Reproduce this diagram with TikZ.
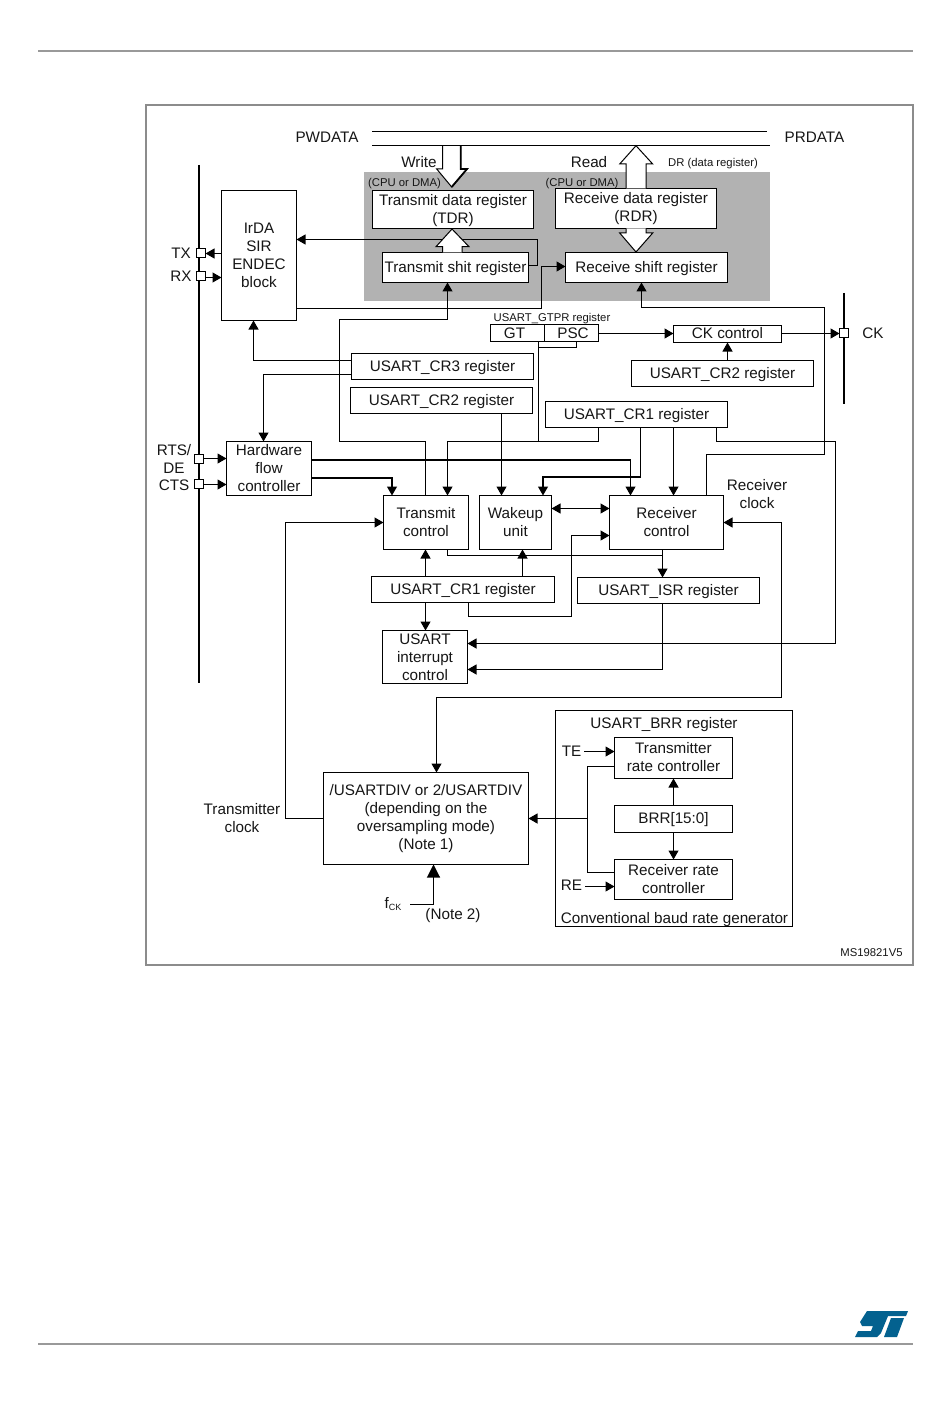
\documentclass[tikz,border=0pt]{standalone}
\usepackage{fontspec}
\setmainfont{Liberation Sans}
\usetikzlibrary{arrows.meta}
\definecolor{regfill}{HTML}{B2B2B2}
\definecolor{framegray}{HTML}{8C8C8C}
\definecolor{rulegray}{HTML}{999999}
\definecolor{stblue}{HTML}{03618F}
\definecolor{inkc}{HTML}{161616}
\tikzset{
  bx/.style={draw=black,line width=1.1pt,fill=white,inner sep=0pt,outer sep=0pt,align=center,text=inkc,font=\fontsize{15.25}{18}\selectfont},
  lbl/.style={inner sep=0pt,outer sep=0pt,align=center,text=inkc,font=\fontsize{15.25}{18}\selectfont},
  small/.style={inner sep=0pt,outer sep=0pt,align=center,text=inkc,font=\fontsize{11.3}{13}\selectfont},
  pin/.style={draw=black,line width=1.1pt,fill=white,minimum size=9pt,inner sep=0pt,outer sep=0pt},
  wire/.style={draw=black,line width=1.1pt},
  arr/.style={wire,-{Triangle[length=9pt,width=10pt]}},
  darr/.style={wire,{Triangle[length=9pt,width=10pt]}-{Triangle[length=9pt,width=10pt]}},
  fat/.style={wire,line width=2pt},
  bigarr/.style={wire,-{Triangle[length=13pt,width=13pt]}},
  hollow/.style={draw=black,line width=1pt,fill=white,line join=miter},
  bus/.style={draw=black,line width=1.1pt},
  oneline/.style={text depth=1.5pt}
}
\newcommand\mybox[7][]{\node[bx,minimum width={(#5-#3)*1pt},minimum height={(#6-#4)*1pt},#1] (#2) at ({(#3+#5)/2},{(#4+#6)/2}) {#7};}
\begin{document}
\begin{tikzpicture}[x=1pt,y=-1pt]
\useasboundingbox (0,0) rectangle (950,1420);
\fill[white] (0,0) rectangle (950,1420);
% page furniture
\draw[rulegray,line width=1.2pt] (38,51) -- (913,51);
\draw[rulegray,line width=1.2pt] (38,1344) -- (913,1344);
\draw[framegray,line width=1.5pt] (146,105) rectangle (913,965);
% ST logo
\fill[stblue] (867,1311) -- (908,1311) -- (906,1316) -- (888,1316) -- (881,1333) -- (877,1337) -- (855,1337) -- (858,1331) -- (871,1331) -- (873,1326) -- (862,1326) -- (860,1322) -- cycle;
\fill[stblue] (891,1318) -- (904,1318) -- (897,1337) -- (884,1337) -- cycle;
% data register area
\fill[regfill] (364.3,172) rectangle (770,301);
% I/O bars
\draw[black,line width=2pt] (199,165) -- (199,683);
\draw[black,line width=2pt] (844,293) -- (844,404);
% labels
\node[lbl] (pwd) at (327,137) {PWDATA};
\node[lbl] (prd) at (814.5,137) {PRDATA};
\node[lbl] (wr) at (419,162) {Write};
\node[lbl] (rd) at (589,162) {Read};
\node[small] (dr) at (713,163.5) {DR (data register)};
\node[small] (cpu1) at (404.5,183.5) {(CPU or DMA)};
\node[small] (cpu2) at (582,183.5) {(CPU or DMA)};
\node[lbl] (tx) at (181,253) {TX};
\node[lbl] (rx) at (181,276) {RX};
\node[lbl] (rts) at (174,450) {RTS/};
\node[lbl] (de) at (174,468) {DE};
\node[lbl] (cts) at (174,485) {CTS};
\node[lbl] (ck) at (873,333) {CK};
\node[small] (gtpr) at (552,318.5) {USART\_GTPR register};
\node[lbl] (rclk) at (757,494.5) {Receiver\\clock};
\node[lbl] (tclk) at (242,818) {Transmitter\\clock};
\node[lbl] (brrt) at (664,724.5) {USART\_BRR register};
\node[lbl] (conv) at (674.5,919.5) {Conventional baud rate generator};
\node[lbl] (te) at (571.5,751) {TE};
\node[lbl] (re) at (571.5,885.5) {RE};
\node[small] (ms) at (871.5,952.5) {MS19821V5};
\node[lbl] (fck) at (393,904.5) {f{\fontsize{9}{9}\selectfont\raisebox{-2pt}{CK}}};
\node[lbl] (n2) at (453,915.5) {(Note 2)};
\coordinate (fckend) at (410,904.5);
% pins
\node[pin] (ptx) at (201,253) {};
\node[pin] (prx) at (201,276) {};
\node[pin] (prts) at (199,459) {};
\node[pin] (pcts) at (199,484) {};
\node[pin] (pck) at (844,333) {};
% boxes
\mybox[text depth=1pt]{tdr}{372.5}{190.5}{533.5}{228.5}{Transmit data register\\(TDR)}
\mybox{rdr}{555.5}{188.5}{716.5}{228.5}{Receive data register\\(RDR)}
\mybox[oneline]{tsr}{382.5}{252.5}{528.5}{282.5}{Transmit shit register}
\mybox[oneline]{rsr}{565.5}{252.5}{727.5}{282.5}{Receive shift register}
\mybox{irda}{221.5}{190.5}{296.5}{320.5}{IrDA\\SIR\\ENDEC\\block}
\mybox{gt}{490.5}{324.5}{544.5}{341.5}{\hspace*{-6pt}GT}
\mybox{psc}{544.5}{324.5}{598.5}{341.5}{\hspace*{3pt}PSC}
\mybox[text depth=2pt]{ckc}{673.5}{325.5}{781.5}{342.5}{CK control}
\mybox[oneline]{crb}{631.5}{360.5}{813.5}{386.5}{USART\_CR2 register}
\mybox[oneline]{crc}{351.5}{353.5}{533.5}{379.5}{USART\_CR3 register}
\mybox[oneline]{cra}{350.5}{387.5}{532.5}{413.5}{USART\_CR2 register}
\mybox[oneline]{crt}{545.5}{401.5}{727.5}{427.5}{USART\_CR1 register}
\mybox{hw}{226.5}{441.5}{311.5}{495.5}{Hardware\\flow\\controller}
\mybox[text depth=2pt]{tc}{383.5}{495.5}{468.5}{549.5}{Transmit\\control}
\mybox[text depth=2pt]{wu}{479.5}{495.5}{551.5}{549.5}{Wakeup\\unit}
\mybox[text depth=2pt]{rc}{609.5}{495.5}{723.5}{549.5}{Receiver\\control}
\mybox[oneline]{crl}{371.5}{576.5}{554.5}{602.5}{USART\_CR1 register}
\mybox[oneline]{isr}{577.5}{577.5}{759.5}{603.5}{USART\_ISR register}
\mybox{irq}{382.5}{630.5}{467.5}{683.5}{USART\\interrupt\\control}
\mybox{div}{323.5}{772.5}{528.5}{864.5}{/USARTDIV or 2/USARTDIV\\(depending on the\\oversampling mode)\\(Note 1)}
\node[draw=black,line width=1.1pt,inner sep=0pt,outer sep=0pt,minimum width=237pt,minimum height=216pt] (brrg) at (674,818.5) {};
\mybox[text depth=2pt]{trc}{614.5}{737.5}{732.5}{778.5}{Transmitter\\rate controller}
\mybox[oneline]{brr}{614.5}{805.5}{732.5}{832.5}{BRR[15:0]}
\mybox[text depth=2pt]{rrc}{614.5}{859.5}{732.5}{899.5}{Receiver rate\\controller}
% connectors
\draw[arr] (irda.west |- 0,253.5) -- (ptx.east |- 0,253.5);
\draw[arr] (prx.east |- 0,277.5) -- (irda.west |- 0,277.5);
\draw[arr] (prts.east |- 0,458.5) -- (hw.west |- 0,458.5);
\draw[arr] (pcts.east |- 0,484.5) -- (hw.west |- 0,484.5);
\draw[arr] (tsr.east |- 0,265.5) -- (537.5,265.5) -- (537.5,239.5) -- (irda.east |- 0,239.5);
\draw[arr] (irda.east |- 0,308.5) -- (541.5,308.5) -- (541.5,266.5) -- (rsr.west |- 0,266.5);
\draw[arr] (tc.north -| 425.5,0) -- (425.5,441.5) -- (339.5,441.5) -- (339.5,319.5) -- (447.5,319.5) -- (tsr.south -| 447.5,0);
\draw[arr] (rc.north -| 706.5,0) -- (706.5,454.5) -- (824.5,454.5) -- (824.5,307.5) -- (641.5,307.5) -- (rsr.south -| 641.5,0);
\draw[wire] (gt.south -| 538.5,0) -- (538.5,441.5);
\draw[wire] (psc.south -| 576.5,0) -- (576.5,347.5) -- (538.5,347.5);
\draw[arr] (crt.south -| 598.5,0) -- (598.5,441.5) -- (447.5,441.5) -- (tc.north -| 447.5,0);
\draw[arr] (psc.east |- 0,333.5) -- (ckc.west |- 0,333.5);
\draw[arr] (ckc.east |- 0,333.5) -- (pck.west |- 0,333.5);
\draw[arr] (crb.north -| 727.5,0) -- (ckc.south -| 727.5,0);
\draw[arr] (crc.west |- 0,360.5) -- (253.5,360.5) -- (irda.south -| 253.5,0);
\draw[arr] (crc.west |- 0,374.5) -- (263.5,374.5) -- (hw.north -| 263.5,0);
\draw[fat] (hw.east |- 0,460) -- (631,460);
\draw[arr] (630.5,460) -- (rc.north -| 630.5,0);
\draw[fat] (hw.east |- 0,478) -- (392,478) -- (392,487);
\draw[arr] (392,480) -- (tc.north -| 392,0);
\draw[arr] (cra.south -| 501.5,0) -- (wu.north -| 501.5,0);
\draw[wire] (crt.south -| 640.5,0) -- (640.5,477);
\draw[fat] (641,477) -- (543,477) -- (543,487);
\draw[arr] (543,480) -- (wu.north -| 543,0);
\draw[arr] (crt.south -| 673.5,0) -- (rc.north -| 673.5,0);
\draw[arr] (crt.south -| 716.5,0) -- (716.5,441.5) -- (835.5,441.5) -- (835.5,643.5) -- (irq.east |- 0,643.5);
\draw[darr] (wu.east |- 0,508.5) -- (rc.west |- 0,508.5);
\draw[wire] (tc.south -| 447.5,0) -- (447.5,555.5) -- (662.5,555.5);
\draw[arr] (rc.south -| 662.5,0) -- (isr.north -| 662.5,0);
\draw[arr] (crl.south -| 468.5,0) -- (468.5,616.5) -- (571.5,616.5) -- (571.5,535.5) -- (rc.west |- 0,535.5);
\draw[arr] (crl.north -| 425.5,0) -- (tc.south -| 425.5,0);
\draw[arr] (crl.north -| 522.5,0) -- (wu.south -| 522.5,0);
\draw[arr] (crl.south -| 425.5,0) -- (irq.north -| 425.5,0);
\draw[arr] (isr.south -| 662.5,0) -- (662.5,669.5) -- (irq.east |- 0,669.5);
\draw[darr] (rc.east |- 0,522.5) -- (781.5,522.5) -- (781.5,697.5) -- (436.5,697.5) -- (div.north -| 436.5,0);
\draw[arr] (div.west |- 0,818.5) -- (285.5,818.5) -- (285.5,522.5) -- (tc.west |- 0,522.5);
\draw[wire] (trc.west |- 0,766.5) -- (587.5,766.5) -- (587.5,872.5) -- (rrc.west |- 0,872.5);
\draw[arr] (587.5,818.5) -- (div.east |- 0,818.5);
\draw[arr] (te.east |- 0,751.5) ++(3,0) -- (trc.west |- 0,751.5);
\draw[arr] (re.east |- 0,886.5) ++(3,0) -- (rrc.west |- 0,886.5);
\draw[arr] (brr.north -| 673.5,0) -- (trc.south -| 673.5,0);
\draw[arr] (brr.south -| 673.5,0) -- (rrc.north -| 673.5,0);
\draw[bigarr] (fckend) -- (433.5,904.5) -- (div.south -| 433.5,0);
% wide data arrows
\draw[hollow] (442.7,145.5) -- (442.7,169) -- (436.7,169) -- (451.7,187) -- (467,169) -- (460.7,169) -- (460.7,145.5);
\draw[black,line width=1.8pt] (460.7,145.5) -- (460.7,169) -- (467,169) -- (451.7,187);
\draw[hollow] (442.7,252.5) -- (442.7,246.7) -- (436,246.7) -- (452,229) -- (469,246.7) -- (462,246.7) -- (462,252.5);
\draw[hollow] (626,188.5) -- (626,164) -- (619.7,164) -- (636,145.7) -- (652.7,164) -- (646,164) -- (646,188.5);
\draw[hollow] (626,228.5) -- (626,233) -- (619.7,233) -- (636,252) -- (652.7,233) -- (646,233) -- (646,228.5);
% bus
\coordinate (bwL) at (372,131.5); \coordinate (bwR) at (767,131.5);
\coordinate (brL) at (372,145.5); \coordinate (brR) at (770,145.5);
\draw[bus] (bwL) -- (bwR);
\draw[bus] (brL) -- (brR);
\end{tikzpicture}
\end{document}
